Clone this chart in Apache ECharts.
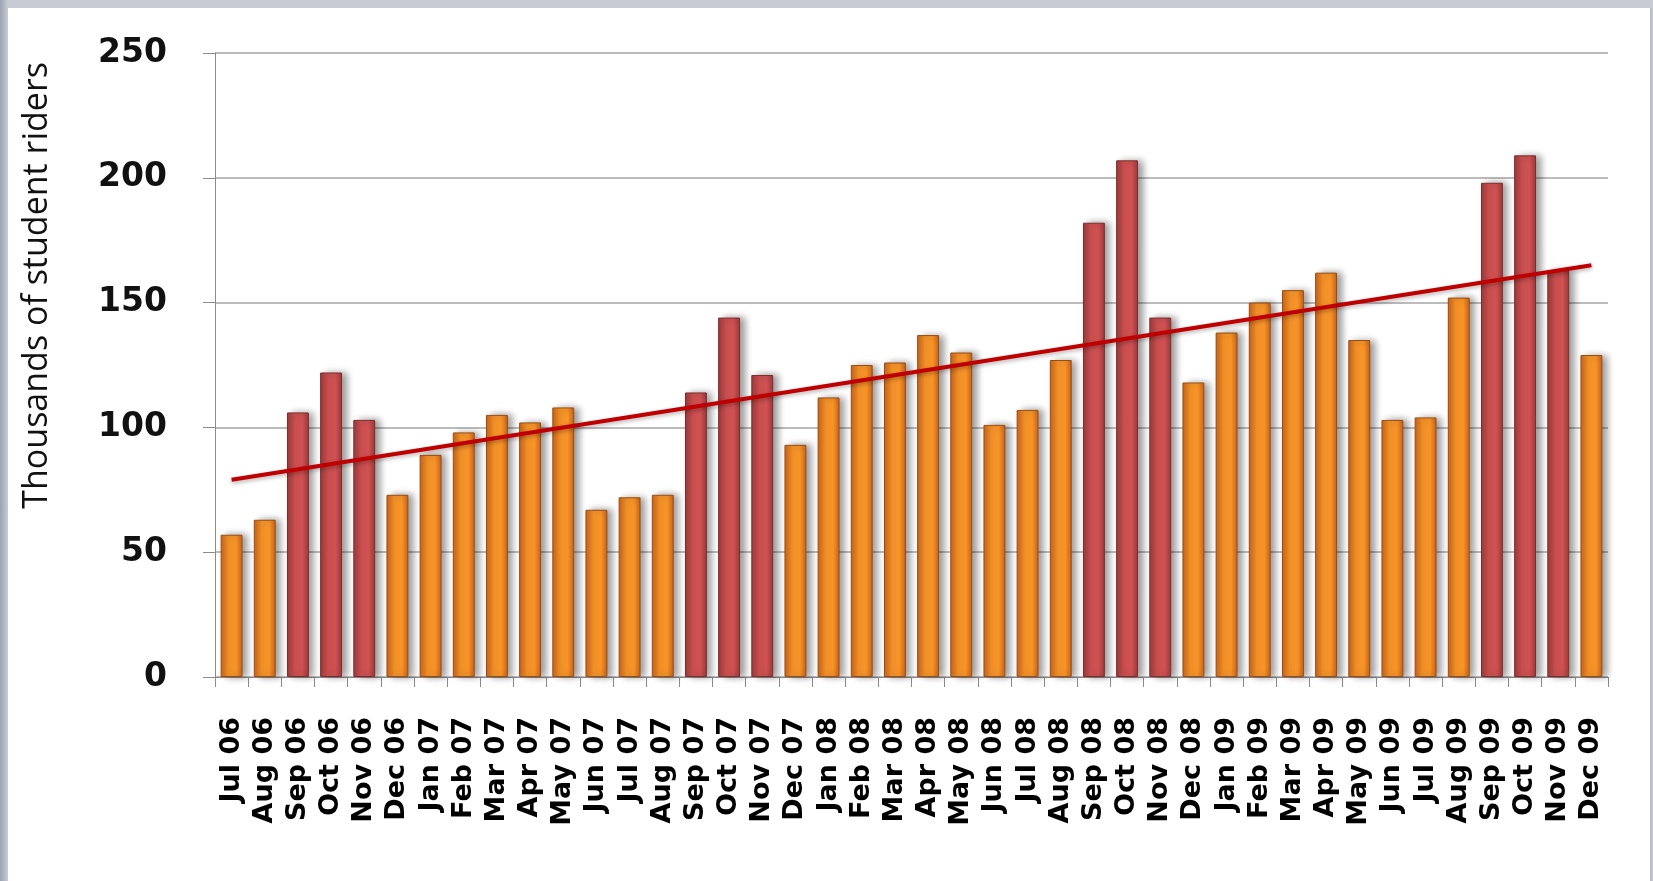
<!DOCTYPE html>
<html>
<head>
<meta charset="utf-8">
<script src="https://cdn.jsdelivr.net/npm/echarts@6/dist/echarts.min.js"></script>
<style>
  html, body { margin: 0; padding: 0; width: 1653px; height: 881px; overflow: hidden; }
  body { background: linear-gradient(90deg, #9aa3b0 0px, #c7ccd4 8px, #c7ccd4 100%); }
  #frame { position: absolute; left: 8px; top: 8px; width: 1642px; height: 873px; background: #fff; border-right: 2px solid #b9bec6; }
  #main { position: absolute; left: -8px; top: -8px; width: 1653px; height: 881px; }
</style>
</head>
<body>
<div id="frame"><div id="main"></div></div>
<script>
// months Jul 06 .. Dec 09
var months = ["Jul 06", "Aug 06", "Sep 06", "Oct 06", "Nov 06", "Dec 06",
    "Jan 07", "Feb 07", "Mar 07", "Apr 07", "May 07", "Jun 07", "Jul 07", "Aug 07", "Sep 07", "Oct 07", "Nov 07", "Dec 07",
    "Jan 08", "Feb 08", "Mar 08", "Apr 08", "May 08", "Jun 08", "Jul 08", "Aug 08", "Sep 08", "Oct 08", "Nov 08", "Dec 08",
    "Jan 09", "Feb 09", "Mar 09", "Apr 09", "May 09", "Jun 09", "Jul 09", "Aug 09", "Sep 09", "Oct 09", "Nov 09", "Dec 09"];

// thousands of student riders
var riders = [57, 63, 106, 122, 103, 73,
    89, 98, 105, 102, 108, 67, 72, 73, 114, 144, 121, 93,
    112, 125, 126, 137, 130, 101, 107, 127, 182, 207, 144, 118,
    138, 150, 155, 162, 135, 103, 104, 152, 198, 209, 163, 129];

// fall months shown in red
var redMonths = ["Sep 06", "Oct 06", "Nov 06", "Sep 07", "Oct 07", "Nov 07",
    "Sep 08", "Oct 08", "Nov 08", "Sep 09", "Oct 09", "Nov 09"];

// trend line end points
var trendStart = 79;
var trendEnd = 165;

var yTicks = [0, 50, 100, 150, 200, 250];

function barGrad(edge, mid) {
    return new echarts.graphic.LinearGradient(0, 0, 1, 0, [
        { offset: 0, color: edge },
        { offset: 0.35, color: mid },
        { offset: 0.7, color: mid },
        { offset: 1, color: edge }
    ]);
}

var barData = [];
for (var i = 0; i < months.length; i++) {
    var isRed = redMonths.indexOf(months[i]) >= 0;
    barData.push({
        value: riders[i],
        itemStyle: {
            color: isRed ? barGrad("#9c3a38", "#cf5152") : barGrad("#c9621a", "#f79428"),
            borderColor: isRed ? "#7d2e2c" : "#9a4d12",
            borderWidth: 1
        }
    });
}

var chart = echarts.init(document.getElementById("main"));
chart.setOption({
    animation: false,
    grid: { left: 215, right: 45, top: 53, bottom: 204 },
    graphic: [{
        type: "text",
        left: 20,
        top: 62,
        rotation: Math.PI / 2,
        style: {
            text: "Thousands of student riders",
            font: "500 34px 'Open Sans', 'Liberation Sans'",
            fill: "#111"
        }
    }],
    xAxis: {
        type: "category",
        data: months,
        axisLine: { show: true, lineStyle: { color: "#8c8c8c", width: 1 } },
        axisTick: { show: true, length: 10, lineStyle: { color: "#8c8c8c" } },
        axisLabel: {
            rotate: 90,
            interval: 0,
            margin: 40,
            color: "#000",
            fontFamily: "DejaVu Sans",
            fontWeight: "bold",
            fontSize: 27
        }
    },
    yAxis: {
        type: "value",
        min: 0,
        max: 250,
        interval: 50,
        axisLine: { show: true, lineStyle: { color: "#8c8c8c" } },
        axisTick: { show: true, length: 12, lineStyle: { color: "#8c8c8c" } },
        axisLabel: {
            margin: 48,
            color: "#111",
            fontFamily: "DejaVu Sans",
            fontWeight: "bold",
            fontSize: 33,
            formatter: function(v) { return yTicks.indexOf(v) >= 0 ? String(v) : ""; }
        },
        splitLine: { show: true, lineStyle: { color: "#a6a6a6", width: 1.5 } }
    },
    series: [{
        type: "bar",
        data: barData,
        barWidth: "66%",
        itemStyle: {
            shadowColor: "rgba(0,0,0,0.4)",
            shadowBlur: 7,
            shadowOffsetX: 5,
            shadowOffsetY: 0
        },
        markLine: {
            silent: true,
            symbol: ["none", "none"],
            label: { show: false },
            lineStyle: { color: "#c00000", width: 4, type: "solid",
                shadowColor: "rgba(0,0,0,0.3)", shadowBlur: 4, shadowOffsetY: 2 },
            data: [[
                { coord: [months[0], trendStart] },
                { coord: [months[months.length - 1], trendEnd] }
            ]]
        }
    }]
});
</script>
</body>
</html>
